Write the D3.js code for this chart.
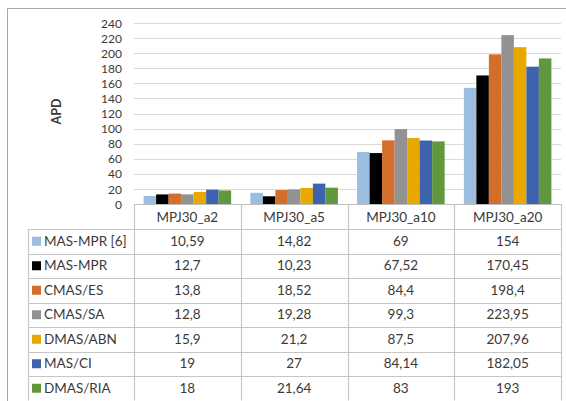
<!DOCTYPE html>
<html>
<head>
<meta charset="utf-8">
<script src="https://cdn.jsdelivr.net/npm/d3@7"></script>
<style>
  html, body { margin: 0; padding: 0; background: #ffffff; }
  svg { display: block; }
  text { font-family: Lato, "Open Sans", sans-serif; fill: #3a3a3a; }
</style>
</head>
<body>
<script>
const categories = ["MPJ30_a2", "MPJ30_a5", "MPJ30_a10", "MPJ30_a20"];
const seriesNames = ["MAS-MPR [6]", "MAS-MPR", "CMAS/ES", "CMAS/SA", "DMAS/ABN", "MAS/CI", "DMAS/RIA"];
const seriesColors = ["#9BBDE0", "#000000", "#D46F2B", "#929292", "#E8A800", "#3C63AC", "#61983E"];
const masMpr6 = [10.59, 14.82, 69, 154];
const masMpr = [12.7, 10.23, 67.52, 170.45];
const cmasEs = [13.8, 18.52, 84.4, 198.4];
const cmasSa = [12.8, 19.28, 99.3, 223.95];
const dmasAbn = [15.9, 21.2, 87.5, 207.96];
const masCi = [19, 27, 84.14, 182.05];
const dmasRia = [18, 21.64, 83, 193];
const valueLabels = [
  ["10,59", "14,82", "69", "154"],
  ["12,7", "10,23", "67,52", "170,45"],
  ["13,8", "18,52", "84,4", "198,4"],
  ["12,8", "19,28", "99,3", "223,95"],
  ["15,9", "21,2", "87,5", "207,96"],
  ["19", "27", "84,14", "182,05"],
  ["18", "21,64", "83", "193"]
];
const yTicks = [0, 20, 40, 60, 80, 100, 120, 140, 160, 180, 200, 220, 240];
const yTitle = "APD";

const seriesValues = [masMpr6, masMpr, cmasEs, cmasSa, dmasAbn, masCi, dmasRia];

const W = 566, H = 401;
const svg = d3.select("body").append("svg").attr("width", W).attr("height", H);

// outer frame
svg.append("path")
  .attr("d", "M7.5," + H + " V8.5 H" + W)
  .attr("fill", "none").attr("stroke", "#a6a6a6").attr("stroke-width", 1);

const plotLeft = 134, plotRight = 561, plotTop = 23, plotBottom = 204;

const x = d3.scaleBand().domain(categories).range([plotLeft, plotRight]).paddingInner(0.18).paddingOuter(0.09);
const xCat = d3.scaleBand().domain(categories).range([plotLeft, plotRight]);
const xs = d3.scaleBand().domain(seriesNames).range([0, x.bandwidth()]);
const y = d3.scaleLinear().domain([0, 240]).range([plotBottom, plotTop]);

// gridlines
svg.append("g").selectAll("line").data(yTicks.filter(d => d > 0)).join("line")
  .attr("x1", plotLeft).attr("x2", plotRight)
  .attr("y1", d => Math.round(y(d)) + 0.5).attr("y2", d => Math.round(y(d)) + 0.5)
  .attr("stroke", "#d9d9d9").attr("stroke-width", 1.2);

// y axis labels
const yAxis = d3.axisLeft(y).tickValues(yTicks).tickSize(0).tickPadding(0);
const yg = svg.append("g").attr("transform", "translate(122,0)").call(yAxis);
yg.select(".domain").remove();
yg.selectAll("text").style("font-size", "12px").attr("fill", "#3a3a3a").attr("dy", "0.34em");

// y title
svg.append("text")
  .attr("transform", "translate(61," + ((plotTop + plotBottom) / 2 - 2) + ") rotate(-90)")
  .attr("text-anchor", "middle")
  .style("font-size", "12.5px").style("font-weight", "bold")
  .text(yTitle);

// bars
const groups = svg.append("g").selectAll("g").data(seriesNames).join("g")
  .attr("fill", (d, i) => seriesColors[i]);
groups.selectAll("rect").data((s, i) => categories.map((c, j) => ({ c, s, v: seriesValues[i][j] }))).join("rect")
  .attr("x", d => x(d.c) + xs(d.s))
  .attr("width", xs.bandwidth())
  .attr("y", d => y(d.v))
  .attr("height", d => y(0) - y(d.v));

// table
const rowTop = 229, rowH = 24.5, nRows = seriesNames.length;
const tableBottom = rowTop + rowH * nRows;
const legendLeft = 28;
const lineColor = "#c6c6c6";
const tg = svg.append("g");

// baseline (axis)
tg.append("line").attr("x1", plotLeft).attr("x2", plotRight)
  .attr("y1", plotBottom + 0.5).attr("y2", plotBottom + 0.5)
  .attr("stroke", "#bfbfbf").attr("stroke-width", 1.2);

// vertical lines
const vx = categories.map(c => xCat(c)).concat([plotRight]);
tg.selectAll("line.v").data(vx).join("line").attr("class", "v")
  .attr("x1", d => Math.round(d) + 0.5).attr("x2", d => Math.round(d) + 0.5)
  .attr("y1", plotBottom).attr("y2", tableBottom)
  .attr("stroke", lineColor).attr("stroke-width", 1.2);
tg.append("line").attr("x1", legendLeft + 0.5).attr("x2", legendLeft + 0.5)
  .attr("y1", rowTop).attr("y2", tableBottom)
  .attr("stroke", lineColor).attr("stroke-width", 1.2);

// horizontal lines
const hy = d3.range(nRows + 1).map(i => rowTop + i * rowH);
tg.selectAll("line.h").data(hy).join("line").attr("class", "h")
  .attr("x1", legendLeft).attr("x2", plotRight)
  .attr("y1", d => Math.round(d) + 0.5).attr("y2", d => Math.round(d) + 0.5)
  .attr("stroke", lineColor).attr("stroke-width", 1.2);

// header labels
tg.selectAll("text.hdr").data(categories).join("text").attr("class", "hdr")
  .attr("x", d => xCat(d) + xCat.bandwidth() / 2)
  .attr("y", (plotBottom + rowTop) / 2 + 1)
  .attr("dy", "0.35em").attr("text-anchor", "middle")
  .style("font-size", "13.5px")
  .text(d => d);

// row legend + values
const rows = tg.selectAll("g.row").data(seriesNames).join("g").attr("class", "row")
  .attr("transform", (d, i) => "translate(0," + (rowTop + i * rowH + rowH / 2) + ")");
rows.append("rect")
  .attr("x", 32).attr("y", -4.5).attr("width", 9).attr("height", 9)
  .attr("fill", (d, i) => seriesColors[i]);
rows.append("text")
  .attr("x", 44).attr("dy", "0.35em")
  .style("font-size", "13.5px")
  .text(d => d);
rows.selectAll("text.val").data((d, i) => categories.map((c, j) => ({ c, t: valueLabels[i][j] }))).join("text")
  .attr("class", "val")
  .attr("x", d => xCat(d.c) + xCat.bandwidth() / 2)
  .attr("dy", "0.35em").attr("text-anchor", "middle")
  .style("font-size", "13.5px")
  .text(d => d.t);
</script>
</body>
</html>
